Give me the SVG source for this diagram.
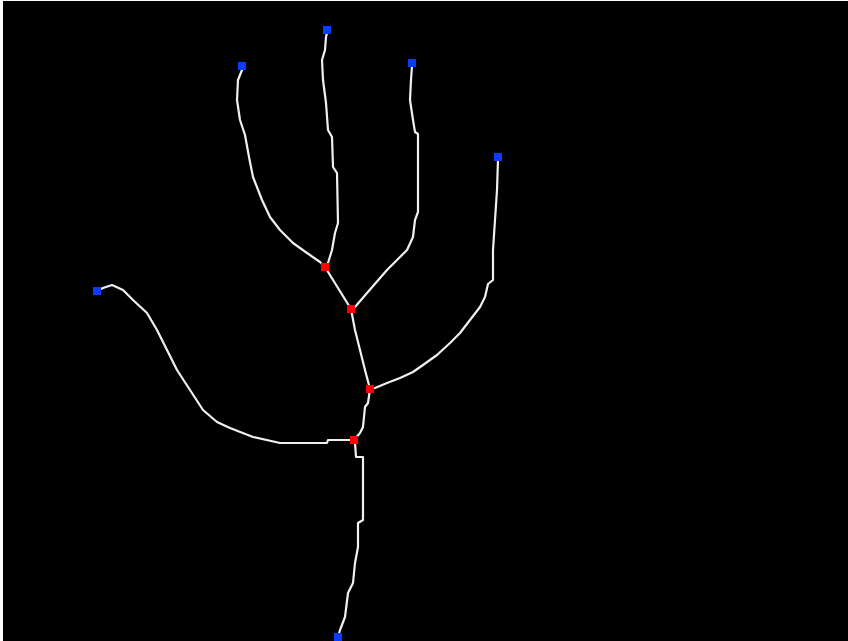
<svg xmlns="http://www.w3.org/2000/svg" width="848" height="641" viewBox="0 0 848 641">
<style>
.edge{fill:none;stroke:#f0f0f0;stroke-width:2.2;stroke-linejoin:round;stroke-linecap:round}
.end{fill:#0a3cff}
.junc{fill:#ff0000}
</style>
<rect x="0" y="0" width="848" height="641" fill="#ffffff"/>
<rect x="3" y="1" width="845" height="640" fill="#000000"/>
<g id="connectors">
<polyline class="edge" points="242,70 238,80 237,100 240,120 245,135 249,157 253,177 262,200 270,217 280,230 293,243 307,253 320,262 325,267"/>
<polyline class="edge" points="327,33 326,37 325,50 322,60 323,80 326,103 328,130 332,137 333,167 337,173 338,223 335,233 332,250 328,263 325,267"/>
<polyline class="edge" points="325,267 338,288 351,309"/>
<polyline class="edge" points="412,66 411,80 410,100 413,120 415,132 418,134 418,212 415,220 413,237 407,250 387,270 367,293 355,307 351,309"/>
<polyline class="edge" points="498,160 497,190 495,220 493,250 493,280 488,284 485,297 480,307 470,320 460,333 450,343 437,355 423,365 413,372 400,378 387,383 375,388 370,389"/>
<polyline class="edge" points="351,309 355,330 360,350 365,370 370,389"/>
<polyline class="edge" points="370,389 368,403 365,407 363,427 360,433 354,440"/>
<polyline class="edge" points="97,291 103,288 112,285 123,290 133,300 147,313 157,330 167,350 177,370 190,390 203,410 217,422 230,428 253,437 280,443 327,443 328,440 354,440"/>
<polyline class="edge" points="354,440 355,443 356,457 363,457 363,520 358,523 358,547 355,563 353,583 348,593 345,617 340,630 338,637"/>
</g>
<g id="e1"><rect class="end" x="238" y="62" width="8" height="8"/></g>
<g id="e2"><rect class="end" x="323" y="26" width="8" height="8"/></g>
<g id="e3"><rect class="end" x="408" y="59" width="8" height="8"/></g>
<g id="e4"><rect class="end" x="494" y="153" width="8" height="8"/></g>
<g id="e5"><rect class="end" x="93" y="287" width="8" height="8"/></g>
<g id="e6"><rect class="end" x="334" y="633" width="8" height="8"/></g>
<g id="j1"><rect class="junc" x="321" y="263" width="8" height="8"/></g>
<g id="j2"><rect class="junc" x="347" y="305" width="8" height="8"/></g>
<g id="j3"><rect class="junc" x="366" y="385" width="8" height="8"/></g>
<g id="j4"><rect class="junc" x="350" y="436" width="8" height="8"/></g>
</svg>
